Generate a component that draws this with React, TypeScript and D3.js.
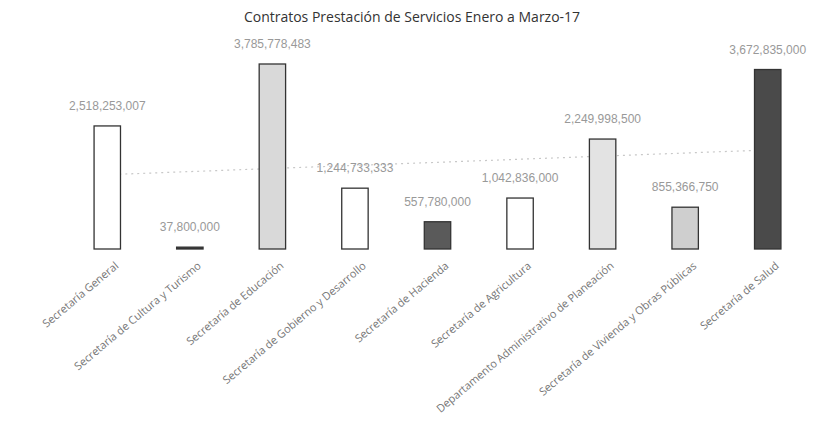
import React from "react";
import * as d3 from "d3";

const categories = [
  "Secretaría General",
  "Secretaría de Cultura y Turismo",
  "Secretaría de Educación",
  "Secretaría de Gobierno y Desarrollo",
  "Secretaría de Hacienda",
  "Secretaría de Agricultura",
  "Departamento Administrativo de Planeación",
  "Secretaría de Vivienda y Obras Públicas",
  "Secretaría de Salud",
];
const values = [
  2518253007, 37800000, 3785778483, 1244733333, 557780000, 1042836000,
  2249998500, 855366750, 3672835000,
];
const valueLabels = [
  "2,518,253,007",
  "37,800,000",
  "3,785,778,483",
  "1,244,733,333",
  "557,780,000",
  "1,042,836,000",
  "2,249,998,500",
  "855,366,750",
  "3,672,835,000",
];
const fills = ["#ffffff", "#333333", "#d9d9d9", "#ffffff", "#5a5a5a", "#ffffff", "#e3e3e3", "#cfcfcf", "#4a4a4a"];
const title = "Contratos Prestación de Servicios Enero a Marzo-17";

export default function App() {
  const W = 825, H = 426;
  const baseY = 249;
  const x = d3.scaleBand<string>().domain(categories).range([66, 809]).paddingInner(0.68).paddingOuter(0.34);
  const y = d3.scaleLinear().domain([0, 3785778483]).range([baseY, 64]);
  const bw = x.bandwidth();

  // linear trendline (least squares) from the values
  const n = values.length;
  const xs = values.map((_, i) => i + 1);
  const mx = d3.mean(xs)!;
  const my = d3.mean(values)!;
  const slope = d3.sum(xs.map((xi, i) => (xi - mx) * (values[i] - my))) / d3.sum(xs.map((xi) => (xi - mx) ** 2));
  const icpt = my - slope * mx;
  const cx = (i: number) => (x(categories[i]) as number) + bw / 2;
  const trend = d3.line<number>()
    .x((i) => cx(i))
    .y((i) => y(icpt + slope * (i + 1)));
  const trendPts = d3.range(n);

  return (
    <svg width={W} height={H} style={{ position: "absolute", left: 0, top: 0, background: "#fff" }}>
      <rect width={W} height={H} fill="#fff" />
      <text x={412} y={22} textAnchor="middle" fontFamily="Open Sans, sans-serif" fontSize={14} fill="#333">
        {title}
      </text>
      <path d={trend(trendPts) || ""} fill="none" stroke="#c8c8c8" strokeWidth={1.2} strokeDasharray="2,4" />
      {categories.map((c, i) => {
        const x0 = x(c) as number;
        const top = y(values[i]);
        const h = Math.max(baseY - top, 1.5);
        return (
          <g key={c}>
            <rect x={x0} y={baseY - h} width={bw} height={h} fill={fills[i]} stroke="#333" strokeWidth={1.3} />
            <text x={x0 + bw / 2} y={baseY - h - 16} textAnchor="middle" fontFamily="Liberation Sans, sans-serif" fontSize={12} fill="#999">
              {valueLabels[i]}
            </text>
            <text
              transform={`translate(${x0 + bw / 2 + 12},${baseY + 18}) rotate(-40)`}
              textAnchor="end"
              fontFamily="Open Sans, sans-serif"
              fontSize={11}
              fill="#777"
            >
              {c}
            </text>
          </g>
        );
      })}
    </svg>
  );
}
